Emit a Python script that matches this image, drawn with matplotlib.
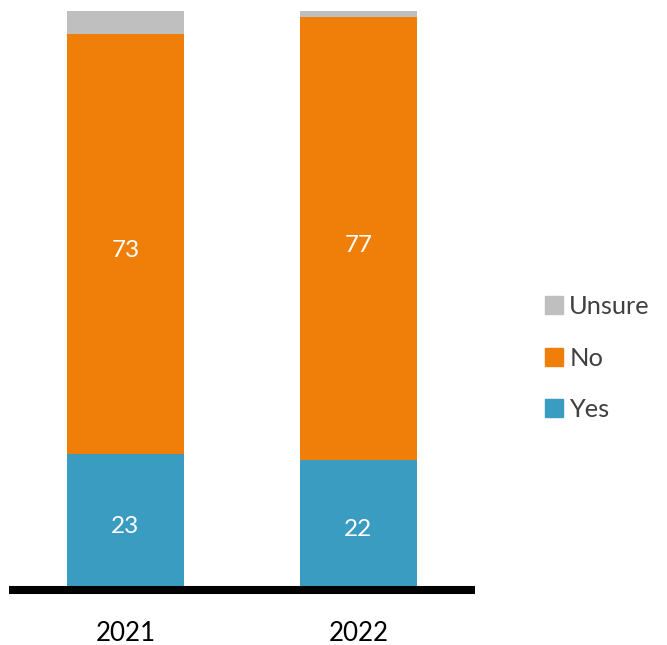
import matplotlib.pyplot as plt
from matplotlib.patches import Patch

years = ["2021", "2022"]
yes = [23, 22]
no = [73, 77]
unsure = [4, 1]

c_yes = "#3A9CC0"
c_no = "#F07F09"
c_unsure = "#BFBFBF"

plt.rcParams['font.family'] = ['Lato', 'DejaVu Sans']

fig = plt.figure(figsize=(6.67, 6.45), dpi=100)
ax = fig.add_axes([9 / 667, 59 / 645, 466 / 667, 575 / 645])

x = list(range(len(years)))
w = 0.5
ax.bar(x, yes, w, color=c_yes)
bottom_no = yes
ax.bar(x, no, w, bottom=bottom_no, color=c_no)
bottom_unsure = [a + b for a, b in zip(yes, no)]
ax.bar(x, unsure, w, bottom=bottom_unsure, color=c_unsure)

# value labels centred in the two big segments
for i in x:
    for base, v in ((0, yes[i]), (bottom_no[i], no[i])):
        ax.annotate(str(v), (i, base + v / 2), xytext=(0, -5),
                    textcoords='offset points', ha='center', va='center',
                    color='white', fontsize=17.5)

# spine position first: moving it resets the tick objects
ax.spines['bottom'].set_position(('outward', 2.9))
ax.spines['bottom'].set_linewidth(5.8)
ax.spines['bottom'].set_color('black')
ax.spines['bottom'].set_capstyle('butt')
for s in ('left', 'right', 'top'):
    ax.spines[s].set_visible(False)

ax.set_xlim(-0.5, 1.5)
ax.set_ylim(0, 100)
ax.set_xticks(x)
ax.set_xticklabels(years, fontsize=18.7, color='black')
ax.tick_params(axis='x', length=0, pad=22)
ax.set_yticks([])

handles = [Patch(color=c_unsure), Patch(color=c_no), Patch(color=c_yes)]
fig.legend(handles, ["Unsure", "No", "Yes"], loc='center left',
           bbox_to_anchor=(545 / 667, 287 / 645), frameon=False,
           fontsize=18.3, labelcolor='#404040', handlelength=0.7,
           handleheight=0.7, handletextpad=0.25, labelspacing=1.13,
           borderpad=0, borderaxespad=0)

fig.savefig("out.png", dpi=100)
